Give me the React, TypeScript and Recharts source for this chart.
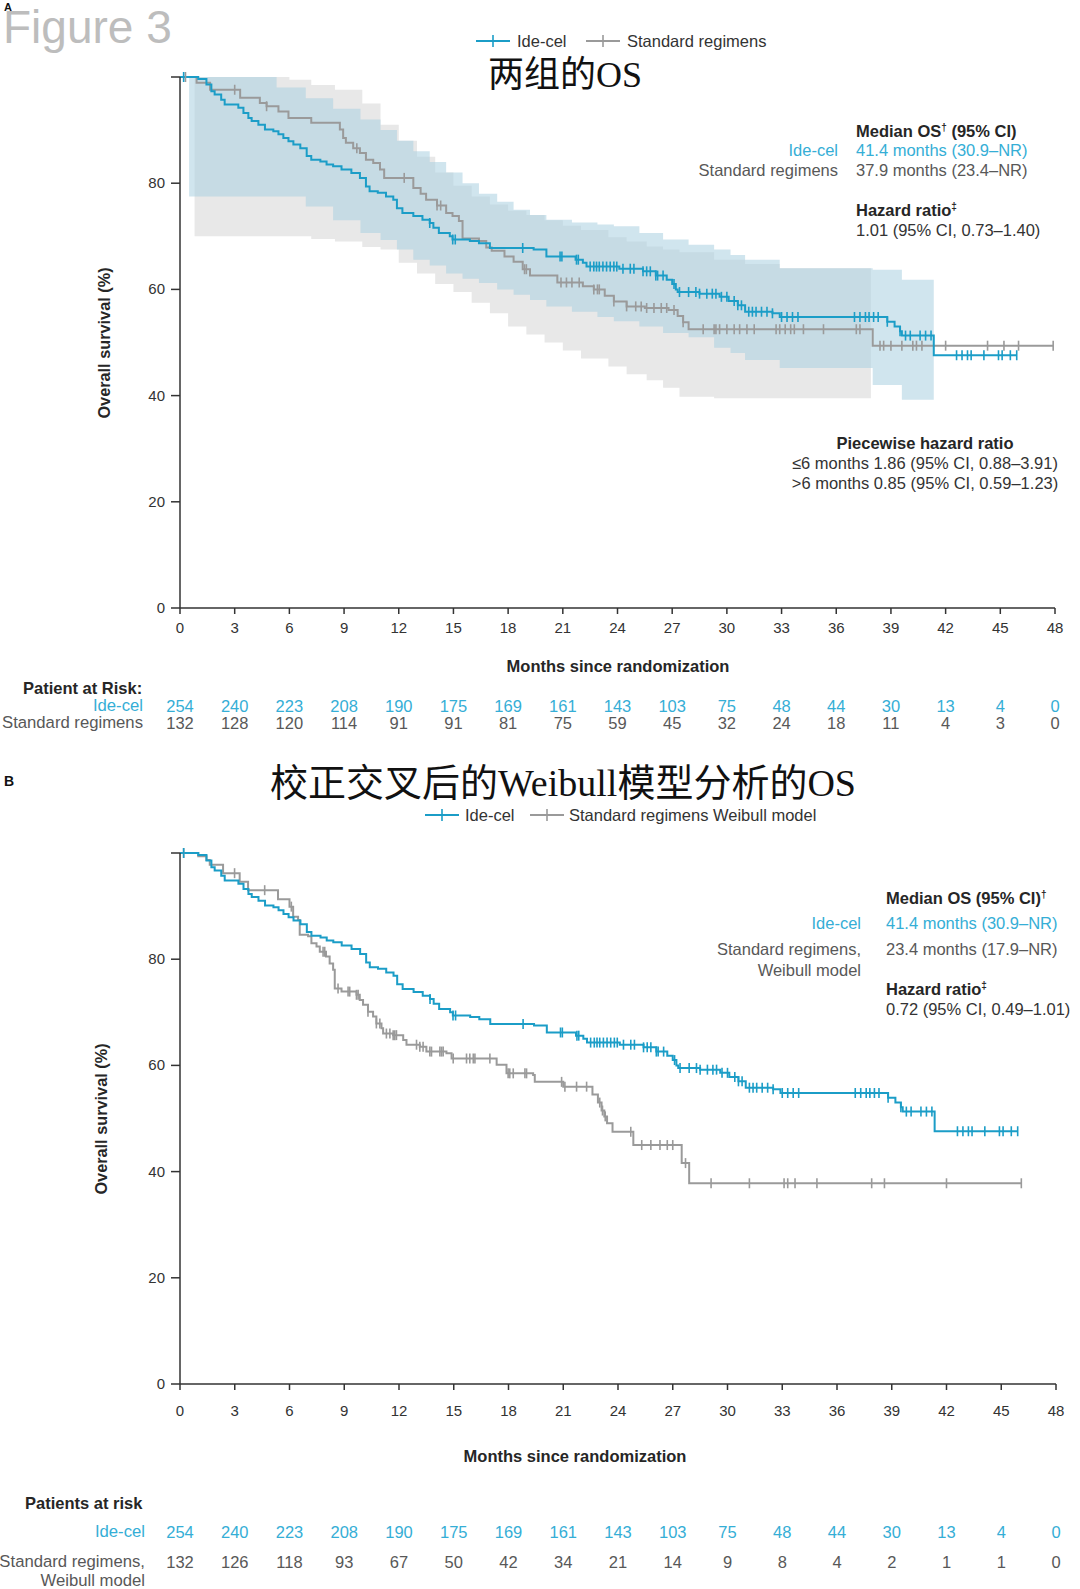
import React from 'react';
import { ComposedChart, Line, Area, Scatter, XAxis, YAxis } from 'recharts';

const SANS = "'Liberation Sans', Arial, Helvetica, sans-serif";
const TITLE_FONT = "'Liberation Serif', 'Noto Sans CJK SC', serif";
const BLUE = '#1b9dc7';
const BLUE_TXT = '#35aed6';
const GRAY = '#9a9a9a';
const DARK = '#262626';
const GRAY_TXT = '#585858';
const FS = 16.5;

// ---------- data ----------
const months = [0, 3, 6, 9, 12, 15, 18, 21, 24, 27, 30, 33, 36, 39, 42, 45, 48];
const yTicks = [0, 20, 40, 60, 80, 100];

const riskIdeA = [254, 240, 223, 208, 190, 175, 169, 161, 143, 103, 75, 48, 44, 30, 13, 4, 0];
const riskStdA = [132, 128, 120, 114, 91, 91, 81, 75, 59, 45, 32, 24, 18, 11, 4, 3, 0];
const riskIdeB = [254, 240, 223, 208, 190, 175, 169, 161, 143, 103, 75, 48, 44, 30, 13, 4, 0];
const riskStdB = [132, 126, 118, 93, 67, 50, 42, 34, 21, 14, 9, 8, 4, 2, 1, 1, 0];

// [month, survival %]
const ideCurve: number[][] = [
  [0, 100], [1.0, 99.6], [1.45, 98.6], [1.72, 97.3], [1.9, 96.7], [2.26, 95.7], [2.45, 94.8], [3.2, 94.2],
  [3.48, 93.2], [3.75, 92.3], [3.93, 91.7], [4.3, 91.0], [4.66, 90.1], [5.12, 89.8], [5.4, 89.2], [5.67, 88.5],
  [5.95, 87.9], [6.22, 87.3], [6.6, 86.6], [6.95, 85.1], [7.2, 84.4], [7.7, 84.1], [8.04, 83.5], [8.4, 83.2],
  [8.86, 82.6], [9.4, 81.9], [9.87, 81.0], [10.2, 79.4], [10.4, 78.5], [10.85, 78.2], [11.3, 77.5], [11.7, 76.9],
  [11.9, 75.3], [12.2, 74.4], [12.8, 73.8], [13.3, 73.1], [13.7, 72.5], [13.9, 71.6], [14.2, 70.6], [14.8, 70.0],
  [14.95, 69.4], [15.9, 69.1], [16.4, 68.7], [17.0, 67.8], [19.4, 67.5], [20.1, 66.2], [21.7, 65.6], [22.1, 65.0],
  [22.3, 64.3], [24.1, 63.9], [25.4, 63.4], [26.1, 62.6], [26.7, 61.8], [27.0, 61.0], [27.2, 60.0], [27.3, 59.5],
  [28.5, 59.2], [29.6, 58.6], [30.1, 57.8], [30.6, 57.0], [31.0, 55.8], [32.5, 55.5], [32.9, 54.8], [38.8, 53.9],
  [39.2, 53.0], [39.5, 52.1], [39.6, 51.3], [41.35, 47.6], [45.9, 47.6],
];
const ideCensor = [
  0.2, 13.7, 14.96, 15.1, 18.8, 20.85, 20.95, 21.75, 21.85, 22.5, 22.7, 22.85, 23.0, 23.2, 23.4, 23.6, 23.8, 23.96,
  24.3, 24.7, 24.9, 25.4, 25.6, 25.8, 26.1, 26.2, 26.5, 27.1, 27.4, 27.9, 28.3, 28.5, 28.9, 29.2, 29.4, 29.7, 30.0,
  30.4, 30.6, 30.8, 31.2, 31.4, 31.6, 31.9, 32.2, 32.5, 33.0, 33.3, 33.6, 33.9, 37.0, 37.3, 37.6, 37.8, 38.05, 38.3,
  38.8, 39.5, 39.8, 40.06, 40.6, 40.9, 41.2, 42.6, 42.9, 43.2, 43.4, 44.1, 44.9, 45.1, 45.55, 45.9,
];

const stdCurveA: number[][] = [
  [0, 100], [0.91, 98.9], [1.65, 97.6], [3.3, 96.1], [4.38, 95.1], [4.75, 94.5], [5.4, 93.5], [5.95, 92.3],
  [7.2, 91.4], [8.77, 90.1], [8.95, 88.5], [9.1, 87.6], [9.5, 86.6], [9.87, 85.7], [10.2, 84.4], [10.6, 83.8],
  [10.97, 82.6], [11.2, 81.0], [12.8, 79.1], [13.2, 78.0], [13.5, 76.9], [14.1, 75.8], [14.6, 74.4], [14.95, 73.8],
  [15.3, 72.9], [15.5, 69.6], [16.4, 69.1], [16.8, 67.9], [17.1, 67.3], [17.8, 66.2], [18.3, 65.2], [18.8, 63.8],
  [19.2, 62.6], [20.7, 61.3], [22.1, 60.6], [22.7, 60.0], [23.3, 58.8], [23.8, 57.7], [24.5, 56.8], [25.5, 56.5],
  [26.8, 56.1], [27.3, 55.0], [27.6, 53.8], [27.9, 52.5], [38.0, 49.4], [47.9, 49.4],
];
const stdCensorA = [
  0.3, 3.0, 4.75, 9.7, 12.3, 14.1, 14.3, 18.9, 19.0, 20.9, 21.2, 21.5, 21.9, 22.7, 22.9, 23.0, 23.8, 24.5, 25.0,
  25.3, 25.6, 26.0, 26.4, 26.7, 27.1, 27.6, 28.7, 29.3, 29.4, 29.6, 30.0, 30.4, 30.7, 31.1, 31.5, 32.7, 32.9, 33.2,
  33.5, 33.7, 34.2, 35.3, 37.1, 37.3, 38.4, 38.6, 39.0, 39.6, 40.2, 40.4, 40.7, 42.0, 44.3, 45.2, 46.0, 47.9,
];

const stdCurveB: number[][] = [
  [0, 100], [1.0, 99.4], [1.45, 98.7], [1.63, 97.8], [2.36, 96.2], [3.27, 94.6], [3.73, 93.0], [5.37, 91.3],
  [6.0, 89.9], [6.2, 88.0], [6.47, 87.4], [6.56, 84.6], [7.02, 84.3], [7.2, 83.0], [7.48, 82.4], [7.66, 81.4],
  [8.0, 80.5], [8.2, 79.2], [8.39, 78.0], [8.48, 74.5], [8.85, 73.9], [9.67, 73.3], [9.85, 72.3], [10.03, 71.4],
  [10.3, 70.1], [10.58, 69.2], [10.76, 67.9], [11.04, 67.0], [11.13, 66.0], [11.68, 65.7], [12.23, 64.8],
  [12.41, 63.9], [13.14, 63.5], [13.5, 62.6], [14.6, 62.3], [14.88, 61.3], [17.35, 60.1], [17.89, 58.5],
  [19.35, 58.2], [19.44, 56.9], [21.0, 56.0], [22.6, 54.5], [22.9, 53.0], [23.1, 51.5], [23.25, 50.4],
  [23.4, 49.1], [23.7, 47.5], [24.84, 45.0], [27.49, 41.6], [27.9, 37.8], [46.1, 37.8],
];
const stdCensorB = [
  0.2, 2.99, 4.64, 6.1, 7.84, 7.93, 8.66, 9.21, 9.3, 9.67, 9.76, 10.3, 10.76, 10.95, 11.31, 11.5, 11.68, 11.77,
  11.86, 12.96, 13.14, 13.32, 13.69, 13.78, 14.24, 14.33, 14.42, 14.97, 15.7, 15.88, 16.07, 16.16, 16.98, 17.98,
  18.07, 18.26, 18.9, 18.99, 20.91, 21.09, 21.73, 22.28, 23.0, 23.15, 23.3, 24.7, 25.3, 25.8, 26.3, 26.7, 27.0,
  27.7, 29.1, 31.2, 33.1, 33.3, 33.7, 34.9, 37.9, 38.6, 42.0, 46.1,
];

// [month, lower CI, upper CI]
const ideBand: number[][] = [
  [0.5, 77.5, 100], [3, 77.5, 100], [5.3, 77.5, 98], [6.9, 75.6, 96], [8.4, 73, 94], [9.9, 70.6, 92],
  [11.0, 69.3, 90], [11.9, 67.5, 88], [12.8, 65.6, 86], [13.7, 64.5, 84], [14.6, 63, 82], [15.5, 62, 80],
  [16.4, 61.2, 78], [17.4, 60, 76.5], [18.3, 59, 75], [19.2, 58, 74], [20.1, 56.8, 73.1], [21.5, 55.8, 72.6],
  [22.9, 54.8, 72.2], [23.8, 54, 71.9], [25.2, 53, 70.6], [26.5, 51.8, 69.4], [27.9, 51, 68.4], [29.3, 49, 67.5],
  [30.2, 48, 66.5], [31.0, 46.7, 65.6], [32.9, 45.2, 64.0], [38.0, 42, 63.7], [39.6, 39.2, 61.8], [41.35, 39.2, 61.8],
];
const stdBand: number[][] = [
  [0.8, 70, 100], [4.4, 70, 100], [6.0, 70, 99.5], [7.2, 69.5, 98.5], [8.5, 69, 97.6], [10.0, 68, 95],
  [11.0, 67.5, 91], [12.0, 65, 88], [13.0, 63, 85], [14.0, 61, 82], [15.0, 59.5, 79.5], [16.0, 57.5, 77.5],
  [17.0, 55.5, 76], [18.0, 53, 74.8], [19.0, 51.5, 74], [20.0, 50, 73], [21.0, 48.5, 72], [22.0, 47, 71.2],
  [23.5, 45.5, 69.8], [24.5, 44, 69], [25.6, 42.9, 68.1], [26.5, 41.5, 67.5], [27.4, 39.8, 67], [29.3, 39.5, 65.6],
  [31.0, 39.5, 64.8], [32.9, 39.5, 64], [37.9, 39.5, 64],
];

// ---------- helpers ----------
const toLine = (c: number[][]) => c.map(([x, y]) => ({ x, y }));
const toBand = (b: number[][]) => b.map(([x, lo, hi]) => ({ x, band: [lo, hi] }));
const stepAt = (c: number[][], t: number) => {
  let v = c[0][1];
  for (const [x, y] of c) {
    if (x <= t + 1e-9) v = y;
    else break;
  }
  return v;
};
const toCensor = (c: number[][], times: number[]) => times.map((t) => ({ x: t, y: stepAt(c, t) }));

const censorShape = (color: string) => (props: any) => {
  const { cx, cy } = props;
  if (cx == null || cy == null) return <g />;
  return <line x1={cx} x2={cx} y1={cy - 5} y2={cy + 5} stroke={color} strokeWidth={1.6} />;
};

const Txt = ({ x, y, anchor = 'start', size = FS, weight = 400, color = DARK, family = SANS, lh = 1, children }: any) => (
  <div
    style={{
      position: 'absolute',
      left: x,
      top: y,
      transform: `translate(${anchor === 'start' ? 0 : anchor === 'middle' ? -50 : -100}%, -50%)`,
      fontSize: size,
      fontWeight: weight,
      color,
      fontFamily: family,
      whiteSpace: 'nowrap',
      lineHeight: lh,
    }}
  >
    {children}
  </div>
);

const LegendMark = ({ x, y, color }: any) => (
  <svg style={{ position: 'absolute', left: x, top: y - 7 }} width={34} height={14}>
    <line x1={0} y1={7} x2={34} y2={7} stroke={color} strokeWidth={2} />
    <line x1={17} y1={1} x2={17} y2={13} stroke={color} strokeWidth={1.6} />
  </svg>
);

type PanelProps = {
  top: number;
  height: number;
  marginTop: number;
  marginBottom: number;
  marginRight: number;
  stdCurve: number[][];
  stdCensor: number[];
  riskIde: number[];
  riskStd: number[];
  showBands: boolean;
  offsets: { label: number; ide: number; std: number };
};

function Panel(p: PanelProps) {
  const xTick = (props: any) => {
    const { x, y, payload } = props;
    const i = months.indexOf(payload.value);
    return (
      <g>
        <text x={x} y={y + p.offsets.label} textAnchor="middle" fontSize={15} fill="#333" fontFamily={SANS}>
          {payload.value}
        </text>
        <text x={x} y={y + p.offsets.ide} textAnchor="middle" fontSize={16.5} fill={BLUE_TXT} fontFamily={SANS}>
          {p.riskIde[i]}
        </text>
        <text x={x} y={y + p.offsets.std} textAnchor="middle" fontSize={16.5} fill={GRAY_TXT} fontFamily={SANS}>
          {p.riskStd[i]}
        </text>
      </g>
    );
  };
  const yTick = (props: any) => {
    const { x, y, payload } = props;
    if (payload.value === 100) return <g />;
    return (
      <text x={x} y={y} dy={5} textAnchor="end" fontSize={15} fill="#333" fontFamily={SANS}>
        {payload.value}
      </text>
    );
  };
  return (
    <div style={{ position: 'absolute', left: 0, top: p.top }}>
      <ComposedChart
        width={1080}
        height={p.height}
        margin={{ top: p.marginTop, right: p.marginRight, left: 100, bottom: p.marginBottom }}
      >
        <XAxis
          type="number"
          dataKey="x"
          domain={[0, 48]}
          ticks={months}
          interval={0}
          height={30}
          tickSize={6}
          tickMargin={2}
          axisLine={{ stroke: '#333', strokeWidth: 1.5 }}
          tickLine={{ stroke: '#333', strokeWidth: 1.5 }}
          tick={xTick}
        />
        <YAxis
          type="number"
          domain={[0, 100]}
          ticks={yTicks}
          interval={0}
          width={80}
          tickSize={9}
          tickMargin={6}
          axisLine={{ stroke: '#333', strokeWidth: 1.5 }}
          tickLine={{ stroke: '#333', strokeWidth: 1.5 }}
          tick={yTick}
        />
        {p.showBands && (
          <Area
            data={toBand(stdBand)}
            dataKey="band"
            type="stepAfter"
            fill="#e8e8e8"
            fillOpacity={1}
            stroke="none"
            isAnimationActive={false}
          />
        )}
        {p.showBands && (
          <Area
            data={toBand(ideBand)}
            dataKey="band"
            type="stepAfter"
            fill="#a9d0e0"
            fillOpacity={0.55}
            stroke="none"
            isAnimationActive={false}
          />
        )}
        <Line
          data={toLine(p.stdCurve)}
          dataKey="y"
          type="stepAfter"
          stroke={GRAY}
          strokeWidth={2}
          dot={false}
          isAnimationActive={false}
        />
        <Line
          data={toLine(ideCurve)}
          dataKey="y"
          type="stepAfter"
          stroke={BLUE}
          strokeWidth={2}
          dot={false}
          isAnimationActive={false}
        />
        <Scatter
          data={toCensor(p.stdCurve, p.stdCensor)}
          dataKey="y"
          shape={censorShape(GRAY)}
          isAnimationActive={false}
        />
        <Scatter data={toCensor(ideCurve, ideCensor)} dataKey="y" shape={censorShape(BLUE)} isAnimationActive={false} />
      </ComposedChart>
    </div>
  );
}

const yLabelStyle = (x: number, y: number): React.CSSProperties => ({
  position: 'absolute',
  left: x,
  top: y,
  transform: 'translate(-50%, -50%) rotate(-90deg)',
  fontSize: 16.3,
  fontWeight: 700,
  color: DARK,
  whiteSpace: 'nowrap',
  fontFamily: SANS,
  lineHeight: 1,
});

export default function App() {
  return (
    <div
      style={{
        position: 'absolute',
        left: 0,
        top: 0,
        width: 1080,
        height: 1589,
        background: '#fff',
        overflow: 'hidden',
        fontFamily: SANS,
      }}
    >
      <Panel
        top={0}
        height={740}
        marginTop={77}
        marginBottom={102}
        marginRight={25}
        stdCurve={stdCurveA}
        stdCensor={stdCensorA}
        riskIde={riskIdeA}
        riskStd={riskStdA}
        showBands={true}
        offsets={{ label: 17, ide: 96, std: 113 }}
      />
      <Panel
        top={760}
        height={829}
        marginTop={93}
        marginBottom={175}
        marginRight={24}
        stdCurve={stdCurveB}
        stdCensor={stdCensorB}
        riskIde={riskIdeB}
        riskStd={riskStdB}
        showBands={false}
        offsets={{ label: 24, ide: 146, std: 176 }}
      />

      {/* Panel A texts */}
      <Txt x={3} y={28} size={46} color="#bdbdbd" lh={0.6}>Figure 3</Txt>
      <Txt x={4} y={6.5} size={11} weight={700} color="#111">A</Txt>
      <LegendMark x={476} y={41} color={BLUE} />
      <Txt x={517} y={41} color="#333">Ide-cel</Txt>
      <LegendMark x={586} y={41} color={GRAY} />
      <Txt x={627} y={41} color="#333">Standard regimens</Txt>
      <Txt x={565} y={75} anchor="middle" size={36} color="#111" family={TITLE_FONT}>两组的OS</Txt>

      <Txt x={856} y={131} weight={700} color={DARK}>Median OS<sup style={{ fontSize: 10 }}>†</sup> (95% CI)</Txt>
      <Txt x={838} y={150} anchor="end" color={BLUE_TXT}>Ide-cel</Txt>
      <Txt x={856} y={150} color={BLUE_TXT}>41.4 months (30.9–NR)</Txt>
      <Txt x={838} y={170} anchor="end" color={GRAY_TXT}>Standard regimens</Txt>
      <Txt x={856} y={170} color={GRAY_TXT}>37.9 months (23.4–NR)</Txt>
      <Txt x={856} y={210} weight={700} color={DARK}>Hazard ratio<sup style={{ fontSize: 10 }}>‡</sup></Txt>
      <Txt x={856} y={230} color="#333">1.01 (95% CI, 0.73–1.40)</Txt>

      <Txt x={925} y={443} anchor="middle" weight={700} color={DARK}>Piecewise hazard ratio</Txt>
      <Txt x={925} y={463} anchor="middle" color="#333">≤6 months 1.86 (95% CI, 0.88–3.91)</Txt>
      <Txt x={925} y={483} anchor="middle" color="#333">&gt;6 months 0.85 (95% CI, 0.59–1.23)</Txt>

      <div style={yLabelStyle(104, 343)}>Overall survival (%)</div>
      <Txt x={618} y={666} anchor="middle" weight={700} color={DARK}>Months since randomization</Txt>
      <Txt x={23} y={688} weight={700} color={DARK}>Patient at Risk:</Txt>
      <Txt x={143} y={706} anchor="end" size={16.7} color={BLUE_TXT}>Ide-cel</Txt>
      <Txt x={143} y={723} anchor="end" size={16.7} color={GRAY_TXT}>Standard regimens</Txt>

      {/* Panel B texts */}
      <Txt x={4} y={781} size={14} weight={700} color="#111">B</Txt>
      <Txt x={563} y={783} anchor="middle" size={38} color="#111" family={TITLE_FONT}>校正交叉后的Weibull模型分析的OS</Txt>
      <LegendMark x={425} y={815} color={BLUE} />
      <Txt x={465} y={815} color="#333">Ide-cel</Txt>
      <LegendMark x={530} y={815} color={GRAY} />
      <Txt x={569} y={815} color="#333">Standard regimens Weibull model</Txt>

      <Txt x={886} y={898} weight={700} color={DARK}>Median OS (95% CI)<sup style={{ fontSize: 10 }}>†</sup></Txt>
      <Txt x={861} y={923} anchor="end" color={BLUE_TXT}>Ide-cel</Txt>
      <Txt x={886} y={923} color={BLUE_TXT}>41.4 months (30.9–NR)</Txt>
      <Txt x={861} y={949} anchor="end" color={GRAY_TXT}>Standard regimens,</Txt>
      <Txt x={861} y={970} anchor="end" color={GRAY_TXT}>Weibull model</Txt>
      <Txt x={886} y={949} color={GRAY_TXT}>23.4 months (17.9–NR)</Txt>
      <Txt x={886} y={989} weight={700} color={DARK}>Hazard ratio<sup style={{ fontSize: 10 }}>‡</sup></Txt>
      <Txt x={886} y={1009} color="#333">0.72 (95% CI, 0.49–1.01)</Txt>

      <div style={yLabelStyle(101, 1119)}>Overall survival (%)</div>
      <Txt x={575} y={1456} anchor="middle" weight={700} color={DARK}>Months since randomization</Txt>
      <Txt x={25} y={1503} weight={700} color={DARK}>Patients at risk</Txt>
      <Txt x={145} y={1532} anchor="end" size={16.7} color={BLUE_TXT}>Ide-cel</Txt>
      <Txt x={145} y={1562} anchor="end" size={16.7} color={GRAY_TXT}>Standard regimens,</Txt>
      <Txt x={145} y={1581} anchor="end" size={16.7} color={GRAY_TXT}>Weibull model</Txt>
    </div>
  );
}
